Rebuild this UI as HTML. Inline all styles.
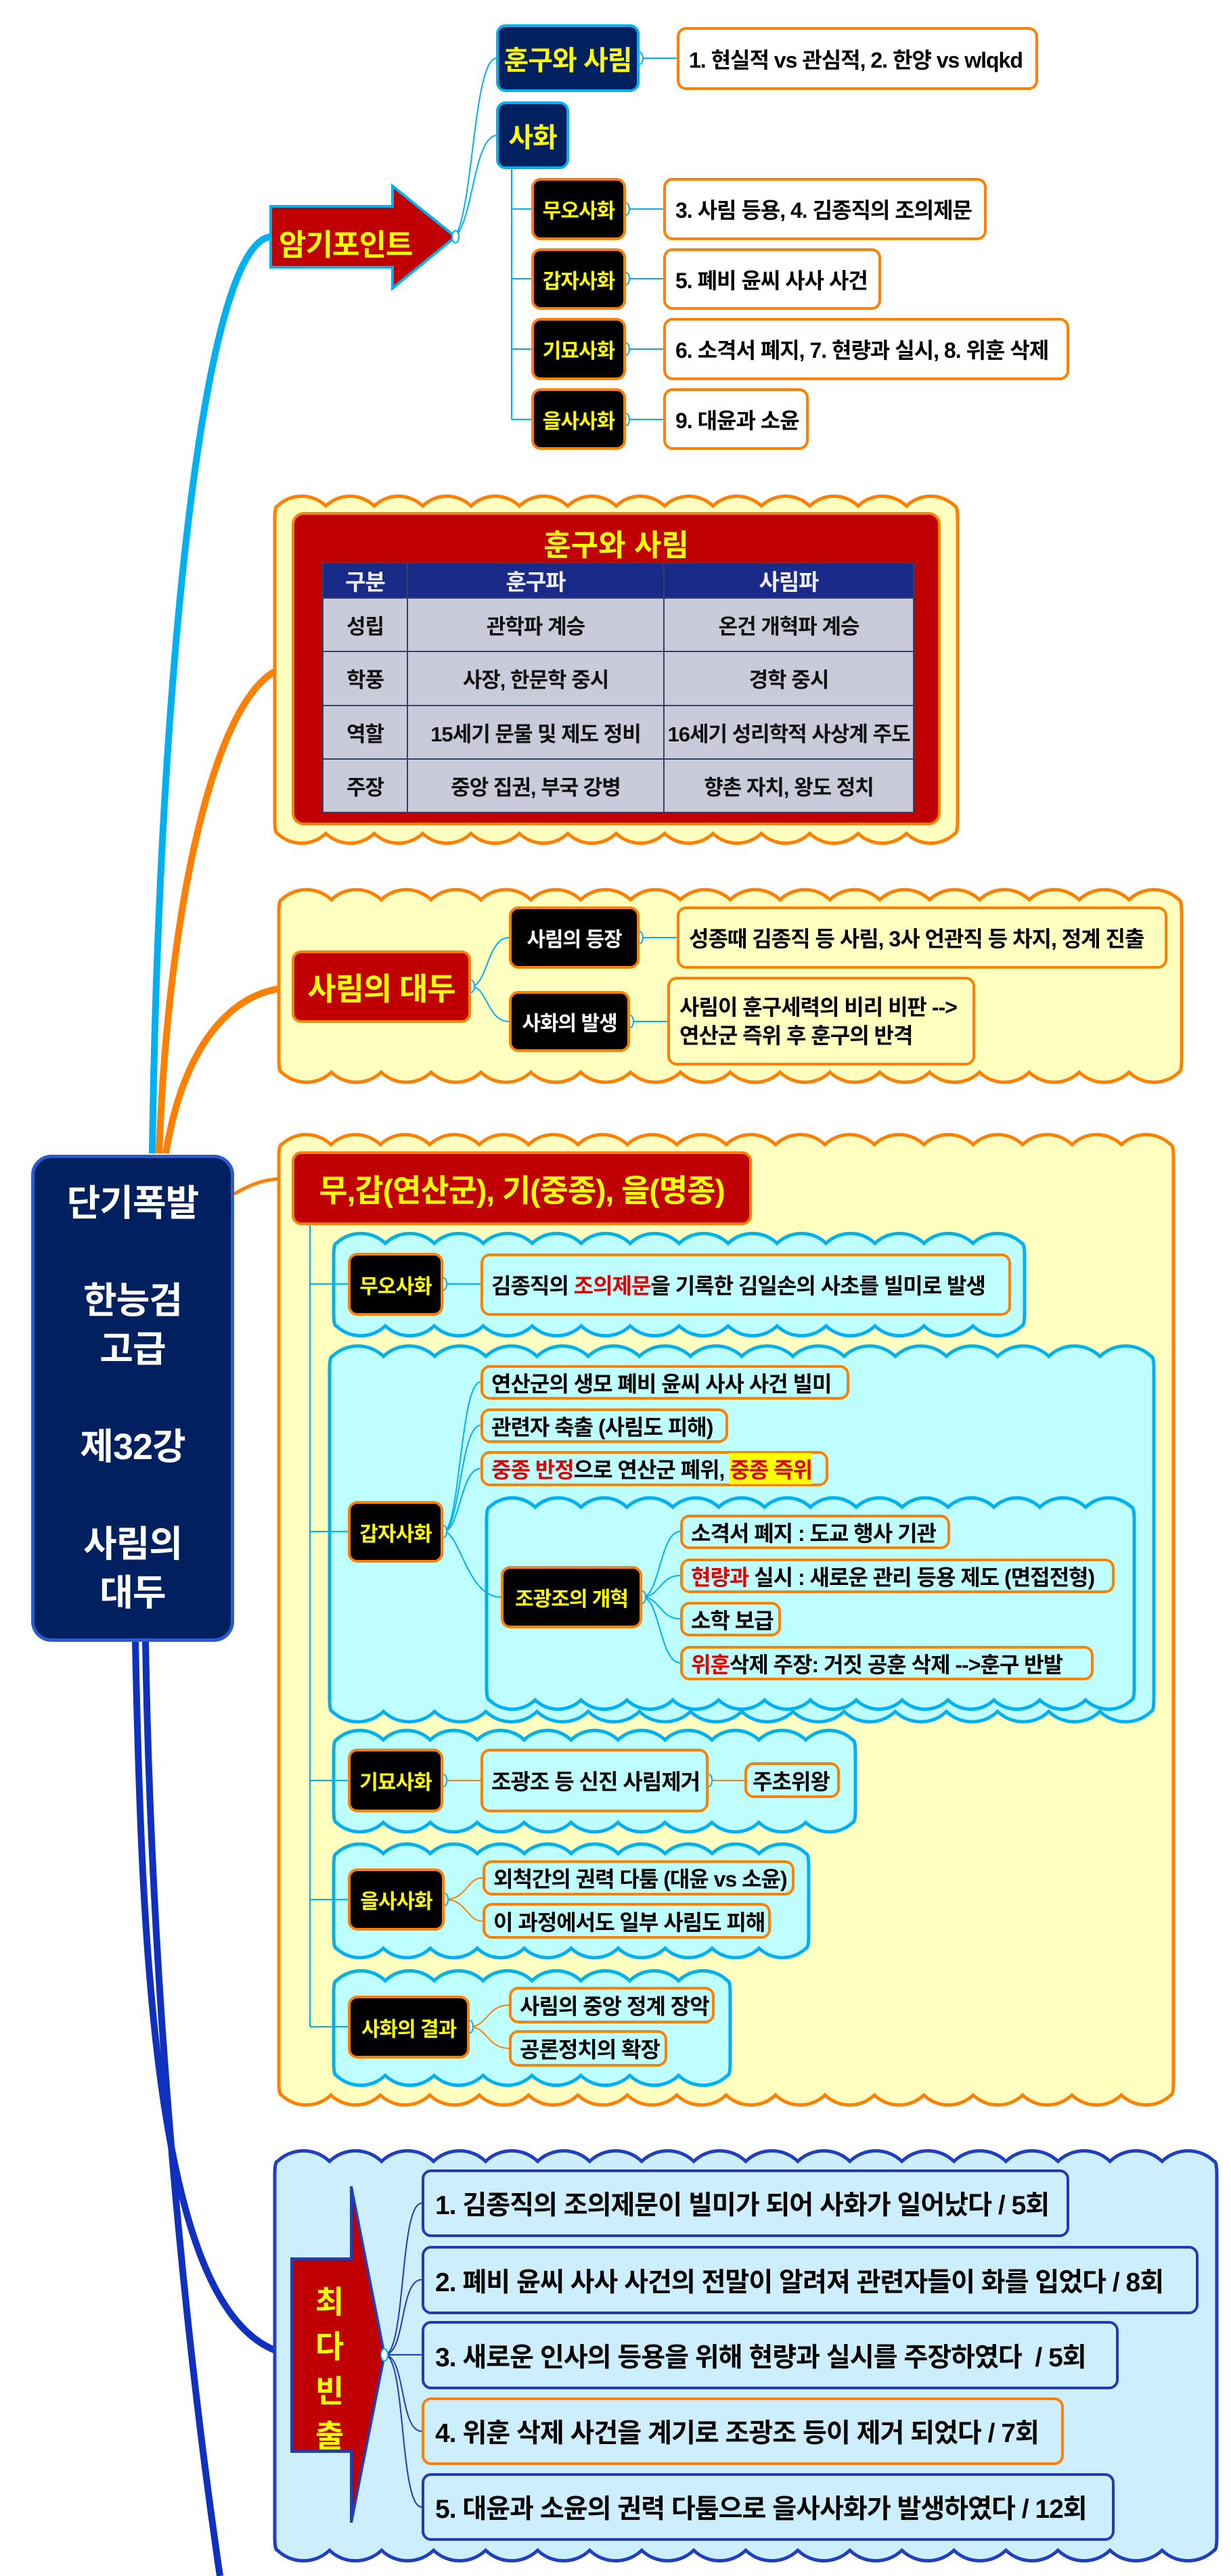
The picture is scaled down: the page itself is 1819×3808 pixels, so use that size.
<!DOCTYPE html>
<html><head><meta charset="utf-8">
<style>
body{margin:0;width:1819px;height:3808px;position:relative;background:#fff;overflow:hidden;font-family:"Liberation Sans","Noto Sans CJK KR",sans-serif}
.b{position:absolute;display:flex;align-items:center;box-sizing:border-box;border-radius:14px;white-space:nowrap;font-weight:bold;letter-spacing:-1px}
.c{justify-content:center}
.navy{background:#002060;border:4px solid #00b0f0;color:#ff0;font-size:40px}
.blk{background:#000;border:4px solid #ff8000;color:#ff0;font-size:30px;justify-content:center}
.ans{background:#fff;border:4px solid #ff8000;color:#000;font-size:32px;padding-left:14px}
.cy{background:#bffeff;border:4px solid #ff8000;color:#000;font-size:32px;padding-left:12px}
.yl{background:#ffffc0;border:4px solid #ff8000;color:#000;font-size:32px;padding-left:14px}
.bl{background:#cdeefd;border:4px solid #2438b8;color:#000;font-size:39px;padding-left:16px}
.r{color:#e00000}
svg{position:absolute;left:0;top:0}
table{position:absolute;left:476px;top:831px;width:875px;height:371px;border-collapse:collapse;font-weight:bold;font-size:31px;letter-spacing:-1px}
td{border:2px solid #3a4060;text-align:center;background:#c9cbda;color:#111}
th{background:#1a2a88;color:#eef;border:2px solid #3a4060;font-size:33px}
</style></head><body>
<svg id="s" width="1819" height="3808"></svg>

<div class="b navy c" style="left:733px;top:36px;width:212px;height:100px">훈구와 사림</div>
<div class="b ans" style="left:1000px;top:40px;width:534px;height:93px">1. 현실적 vs 관심적, 2. 한양 vs wlqkd</div>
<div class="b navy c" style="left:733px;top:150px;width:108px;height:100px">사화</div>
<div class="b blk" style="left:785px;top:263px;width:140px;height:92px">무오사화</div>
<div class="b ans" style="left:980px;top:263px;width:478px;height:92px">3. 사림 등용, 4. 김종직의 조의제문</div>
<div class="b blk" style="left:785px;top:367px;width:140px;height:91px">갑자사화</div>
<div class="b ans" style="left:980px;top:367px;width:322px;height:91px">5. 폐비 윤씨 사사 사건</div>
<div class="b blk" style="left:785px;top:470px;width:140px;height:92px">기묘사화</div>
<div class="b ans" style="left:980px;top:470px;width:600px;height:92px">6. 소격서 폐지, 7. 현량과 실시, 8. 위훈 삭제</div>
<div class="b blk" style="left:785px;top:574px;width:140px;height:91px">을사사화</div>
<div class="b ans" style="left:980px;top:574px;width:215px;height:91px">9. 대윤과 소윤</div>

<div style="position:absolute;left:412px;top:326px;color:#ff0;font-weight:bold;font-size:44px;letter-spacing:-1px">암기포인트</div>

<div style="position:absolute;left:431px;top:757px;width:959px;height:463px;background:#c00000;border:4px solid #ff8000;border-radius:18px;box-sizing:border-box"></div>
<div style="position:absolute;left:431px;top:770px;width:959px;text-align:center;color:#ff0;font-weight:bold;font-size:44px">훈구와 사림</div>
<table>
<tr style="height:52px"><th style="width:121px">구분</th><th style="width:375px">훈구파</th><th>사림파</th></tr>
<tr><td>성립</td><td>관학파 계승</td><td>온건 개혁파 계승</td></tr>
<tr><td>학풍</td><td>사장, 한문학 중시</td><td>경학 중시</td></tr>
<tr><td>역할</td><td>15세기 문물 및 제도 정비</td><td>16세기 성리학적 사상계 주도</td></tr>
<tr><td>주장</td><td>중앙 집권, 부국 강병</td><td>향촌 자치, 왕도 정치</td></tr>
</table>

<div class="b c" style="left:431px;top:1405px;width:265px;height:107px;background:#c00000;border:4px solid #ff8000;color:#ff0;font-size:46px">사림의 대두</div>
<div class="b blk" style="left:752px;top:1340px;width:193px;height:92px;color:#fff">사림의 등장</div>
<div class="b yl" style="left:1000px;top:1340px;width:725px;height:92px">성종때 김종직 등 사림, 3사 언관직 등 차지, 정계 진출</div>
<div class="b blk" style="left:752px;top:1465px;width:179px;height:90px;color:#fff">사화의 발생</div>
<div class="b yl" style="left:986px;top:1444px;width:455px;height:131px;line-height:42px">사림이 훈구세력의 비리 비판 --&gt;<br>연산군 즉위 후 훈구의 반격</div>

<div class="b c" style="left:46px;top:1707px;width:300px;height:720px;background:#002060;border:5px solid #2a5acc;border-radius:30px;color:#fff;font-size:54px;flex-direction:column;text-align:center;line-height:72px">단기폭발<br><br>한능검<br>고급<br><br>제32강<br><br>사림의<br>대두</div>

<div class="b c" style="left:431px;top:1702px;width:680px;height:109px;background:#c00000;border:4px solid #ff8000;color:#ff0;font-size:46px">무,갑(연산군), 기(중종), 을(명종)</div>

<div class="b blk" style="left:514px;top:1852px;width:141px;height:93px">무오사화</div>
<div class="b cy" style="left:710px;top:1853px;width:784px;height:92px">김종직의&nbsp;<span class="r">조의제문</span>을 기록한 김일손의 사초를 빌미로 발생</div>

<div class="b blk" style="left:514px;top:2219px;width:141px;height:91px">갑자사화</div>
<div class="b cy" style="left:710px;top:2018px;width:545px;height:51px">연산군의 생모 폐비 윤씨 사사 사건 빌미</div>
<div class="b cy" style="left:710px;top:2082px;width:366px;height:51px">관련자 축출 (사림도 피해)</div>
<div class="b cy" style="left:710px;top:2145px;width:514px;height:52px"><span class="r">중종 반정</span>으로 연산군 폐위,&nbsp;<span class="r" style="background:#ff0">중종 즉위</span></div>
<div class="b blk" style="left:740px;top:2315px;width:209px;height:92px">조광조의 개혁</div>
<div class="b cy" style="left:1005px;top:2239px;width:399px;height:51px">소격서 폐지 : 도교 행사 기관</div>
<div class="b cy" style="left:1005px;top:2304px;width:642px;height:51px"><span class="r">현량과</span>&nbsp;실시 : 새로운 관리 등용 제도 (면접전형)</div>
<div class="b cy" style="left:1005px;top:2368px;width:149px;height:51px">소학 보급</div>
<div class="b cy" style="left:1005px;top:2433px;width:611px;height:51px"><span class="r">위훈</span>삭제 주장: 거짓 공훈 삭제 --&gt;훈구 반발</div>

<div class="b blk" style="left:514px;top:2585px;width:141px;height:94px">기묘사화</div>
<div class="b cy" style="left:710px;top:2585px;width:337px;height:94px">조광조 등 신진 사림제거</div>
<div class="b cy" style="left:1100px;top:2605px;width:141px;height:53px;padding-left:8px">주초위왕</div>

<div class="b blk" style="left:514px;top:2762px;width:143px;height:92px">을사사화</div>
<div class="b cy" style="left:713px;top:2750px;width:461px;height:52px">외척간의 권력 다툼 (대윤 vs 소윤)</div>
<div class="b cy" style="left:713px;top:2813px;width:426px;height:53px">이 과정에서도 일부 사림도 피해</div>

<div class="b blk" style="left:514px;top:2950px;width:180px;height:93px">사화의 결과</div>
<div class="b cy" style="left:752px;top:2937px;width:304px;height:54px">사림의 중앙 정계 장악</div>
<div class="b cy" style="left:752px;top:3001px;width:234px;height:54px">공론정치의 확장</div>

<div style="position:absolute;left:462px;top:3370px;width:50px;text-align:center;color:#ff0;font-weight:bold;font-size:46px;line-height:66px">최<br>다<br>빈<br>출</div>
<div class="b bl" style="left:623px;top:3207px;width:957px;height:100px">1. 김종직의 조의제문이 빌미가 되어 사화가 일어났다 / 5회</div>
<div class="b bl" style="left:623px;top:3320px;width:1148px;height:101px">2. 폐비 윤씨 사사 사건의 전말이 알려져 관련자들이 화를 입었다 / 8회</div>
<div class="b bl" style="left:623px;top:3431px;width:1030px;height:101px">3. 새로운 인사의 등용을 위해 현량과 실시를 주장하였다 &nbsp;/ 5회</div>
<div class="b bl" style="left:623px;top:3544px;width:949px;height:100px;border-color:#ff8000">4. 위훈 삭제 사건을 계기로 조광조 등이 제거 되었다 / 7회</div>
<div class="b bl" style="left:623px;top:3656px;width:1024px;height:100px">5. 대윤과 소윤의 권력 다툼으로 을사사화가 발생하였다 / 12회</div>

<script>
var s=document.getElementById('s');var h='';
function cloud(x,y,w,hh,b,fill,st){var d='M'+x+','+(y+20);
d+=' Q'+x+','+y+' '+(x+4)+','+y;var ww=w-8,n=Math.max(1,Math.round(ww/b)),bb=ww/n,r=bb*0.72;
for(var i=0;i<n;i++)d+=' a'+r+','+r+' 0 0 1 '+bb+',0';
d+=' Q'+(x+w)+','+y+' '+(x+w)+','+(y+20)+' L'+(x+w)+','+(y+hh-20)+' Q'+(x+w)+','+(y+hh)+' '+(x+w-4)+','+(y+hh);
for(var i=0;i<n;i++)d+=' a'+r+','+r+' 0 0 1 '+(-bb)+',0';
d+=' Q'+x+','+(y+hh)+' '+x+','+(y+hh-20)+' Z';
h+='<path d="'+d+'" fill="'+fill+'" stroke="'+st+'" stroke-width="5"/>';}
h+='<path d="M225,1705 C235,1000 300,360 400,350" fill="none" stroke="#00b0f0" stroke-width="10"/>';
h+='<path d="M235,1705 C250,1300 330,990 431,985" fill="none" stroke="#ff8000" stroke-width="10"/>';
h+='<path d="M245,1705 C270,1550 340,1462 431,1460" fill="none" stroke="#ff8000" stroke-width="10"/>';
h+='<path d="M346,1765 C380,1745 400,1742 431,1742" fill="none" stroke="#ff8000" stroke-width="5"/>';
h+='<path d="M200,2427 C210,2900 230,3450 431,3481" fill="none" stroke="#1030c0" stroke-width="10"/>';
h+='<path d="M215,2427 C225,3000 280,3500 325,3808" fill="none" stroke="#1030c0" stroke-width="10"/>';
cloud(406,748,1009,484,70,'#ffffc0','#ff8000');
cloud(412,1330,1334,255,75,'#ffffc0','#ff8000');
cloud(412,1692,1322,1405,75,'#ffffc0','#ff8000');
cloud(493,1838,1021,122,70,'#bffeff','#00b0f0');
cloud(487,2005,1218,525,75,'#bffeff','#00b0f0');
cloud(719,2228,957,285,70,'#bffeff','#00b0f0');
cloud(493,2572,771,122,70,'#bffeff','#00b0f0');
cloud(493,2740,702,140,70,'#bffeff','#00b0f0');
cloud(493,2928,586,140,70,'#bffeff','#00b0f0');
cloud(406,3195,1392,575,75,'#cdeefd','#1f3fbf');
h+='<polygon points="400,305 580,305 580,275 673,350 580,426 580,395 400,395" fill="#c00000" stroke="#00b0f0" stroke-width="4"/>';
h+='<polygon points="431,3339 519,3339 519,3232 568,3481 519,3729 519,3624 431,3624" fill="#c00000" stroke="#1f3fbf" stroke-width="4"/>';
var L=function(d,c){h+='<path d="'+d+'" fill="none" stroke="'+(c||'#00b0f0')+'" stroke-width="2"/>';};
L('M673,350 C700,300 700,90 733,86');L('M673,350 C700,320 700,205 733,200');
L('M756,250 L756,620');['309','412','516','620'].forEach(function(y){L('M756,'+y+' L785,'+y);L('M925,'+y+' L980,'+y);});
L('M945,86 L1000,86');
L('M696,1458 C720,1458 720,1386 752,1386');L('M696,1458 C720,1458 720,1510 752,1510');
L('M945,1386 L1000,1386');L('M931,1510 L986,1510');
L('M458,1811 L458,2996');['1898','2264','2632','2808','2996'].forEach(function(y){L('M458,'+y+' L514,'+y);});
L('M655,1898 L710,1898');
[2043,2107,2171].forEach(function(y){L('M655,2264 C680,2264 680,'+y+' 710,'+y);});
L('M655,2264 C680,2264 690,2361 740,2361');
[2264,2329,2393,2458].forEach(function(y){L('M949,2361 C975,2361 975,'+y+' 1005,'+y);});
L('M655,2632 L710,2632','#ff8000');L('M1047,2632 L1100,2632','#ff8000');
L('M657,2808 C690,2808 690,2776 713,2776','#ff8000');L('M657,2808 C690,2808 690,2840 713,2840','#ff8000');
L('M694,2996 C720,2996 720,2964 752,2964','#ff8000');L('M694,2996 C720,2996 720,3028 752,3028','#ff8000');
[3257,3370,3481,3594,3706].forEach(function(y){L('M568,3481 C600,3481 590,'+y+' 623,'+y,'#2438b8');});
[[673,350],[945,86],[925,309],[925,412],[925,516],[925,620],[696,1458],[945,1386],[931,1510],[655,1898],[655,2264],[949,2361],[655,2632],[1047,2632],[657,2808],[694,2996],[568,3481]].forEach(function(p){h+='<ellipse cx="'+p[0]+'" cy="'+p[1]+'" rx="5" ry="9" fill="#fff" stroke="#00b0f0" stroke-width="2"/>';});
s.innerHTML=h;
</script>
</body></html>
